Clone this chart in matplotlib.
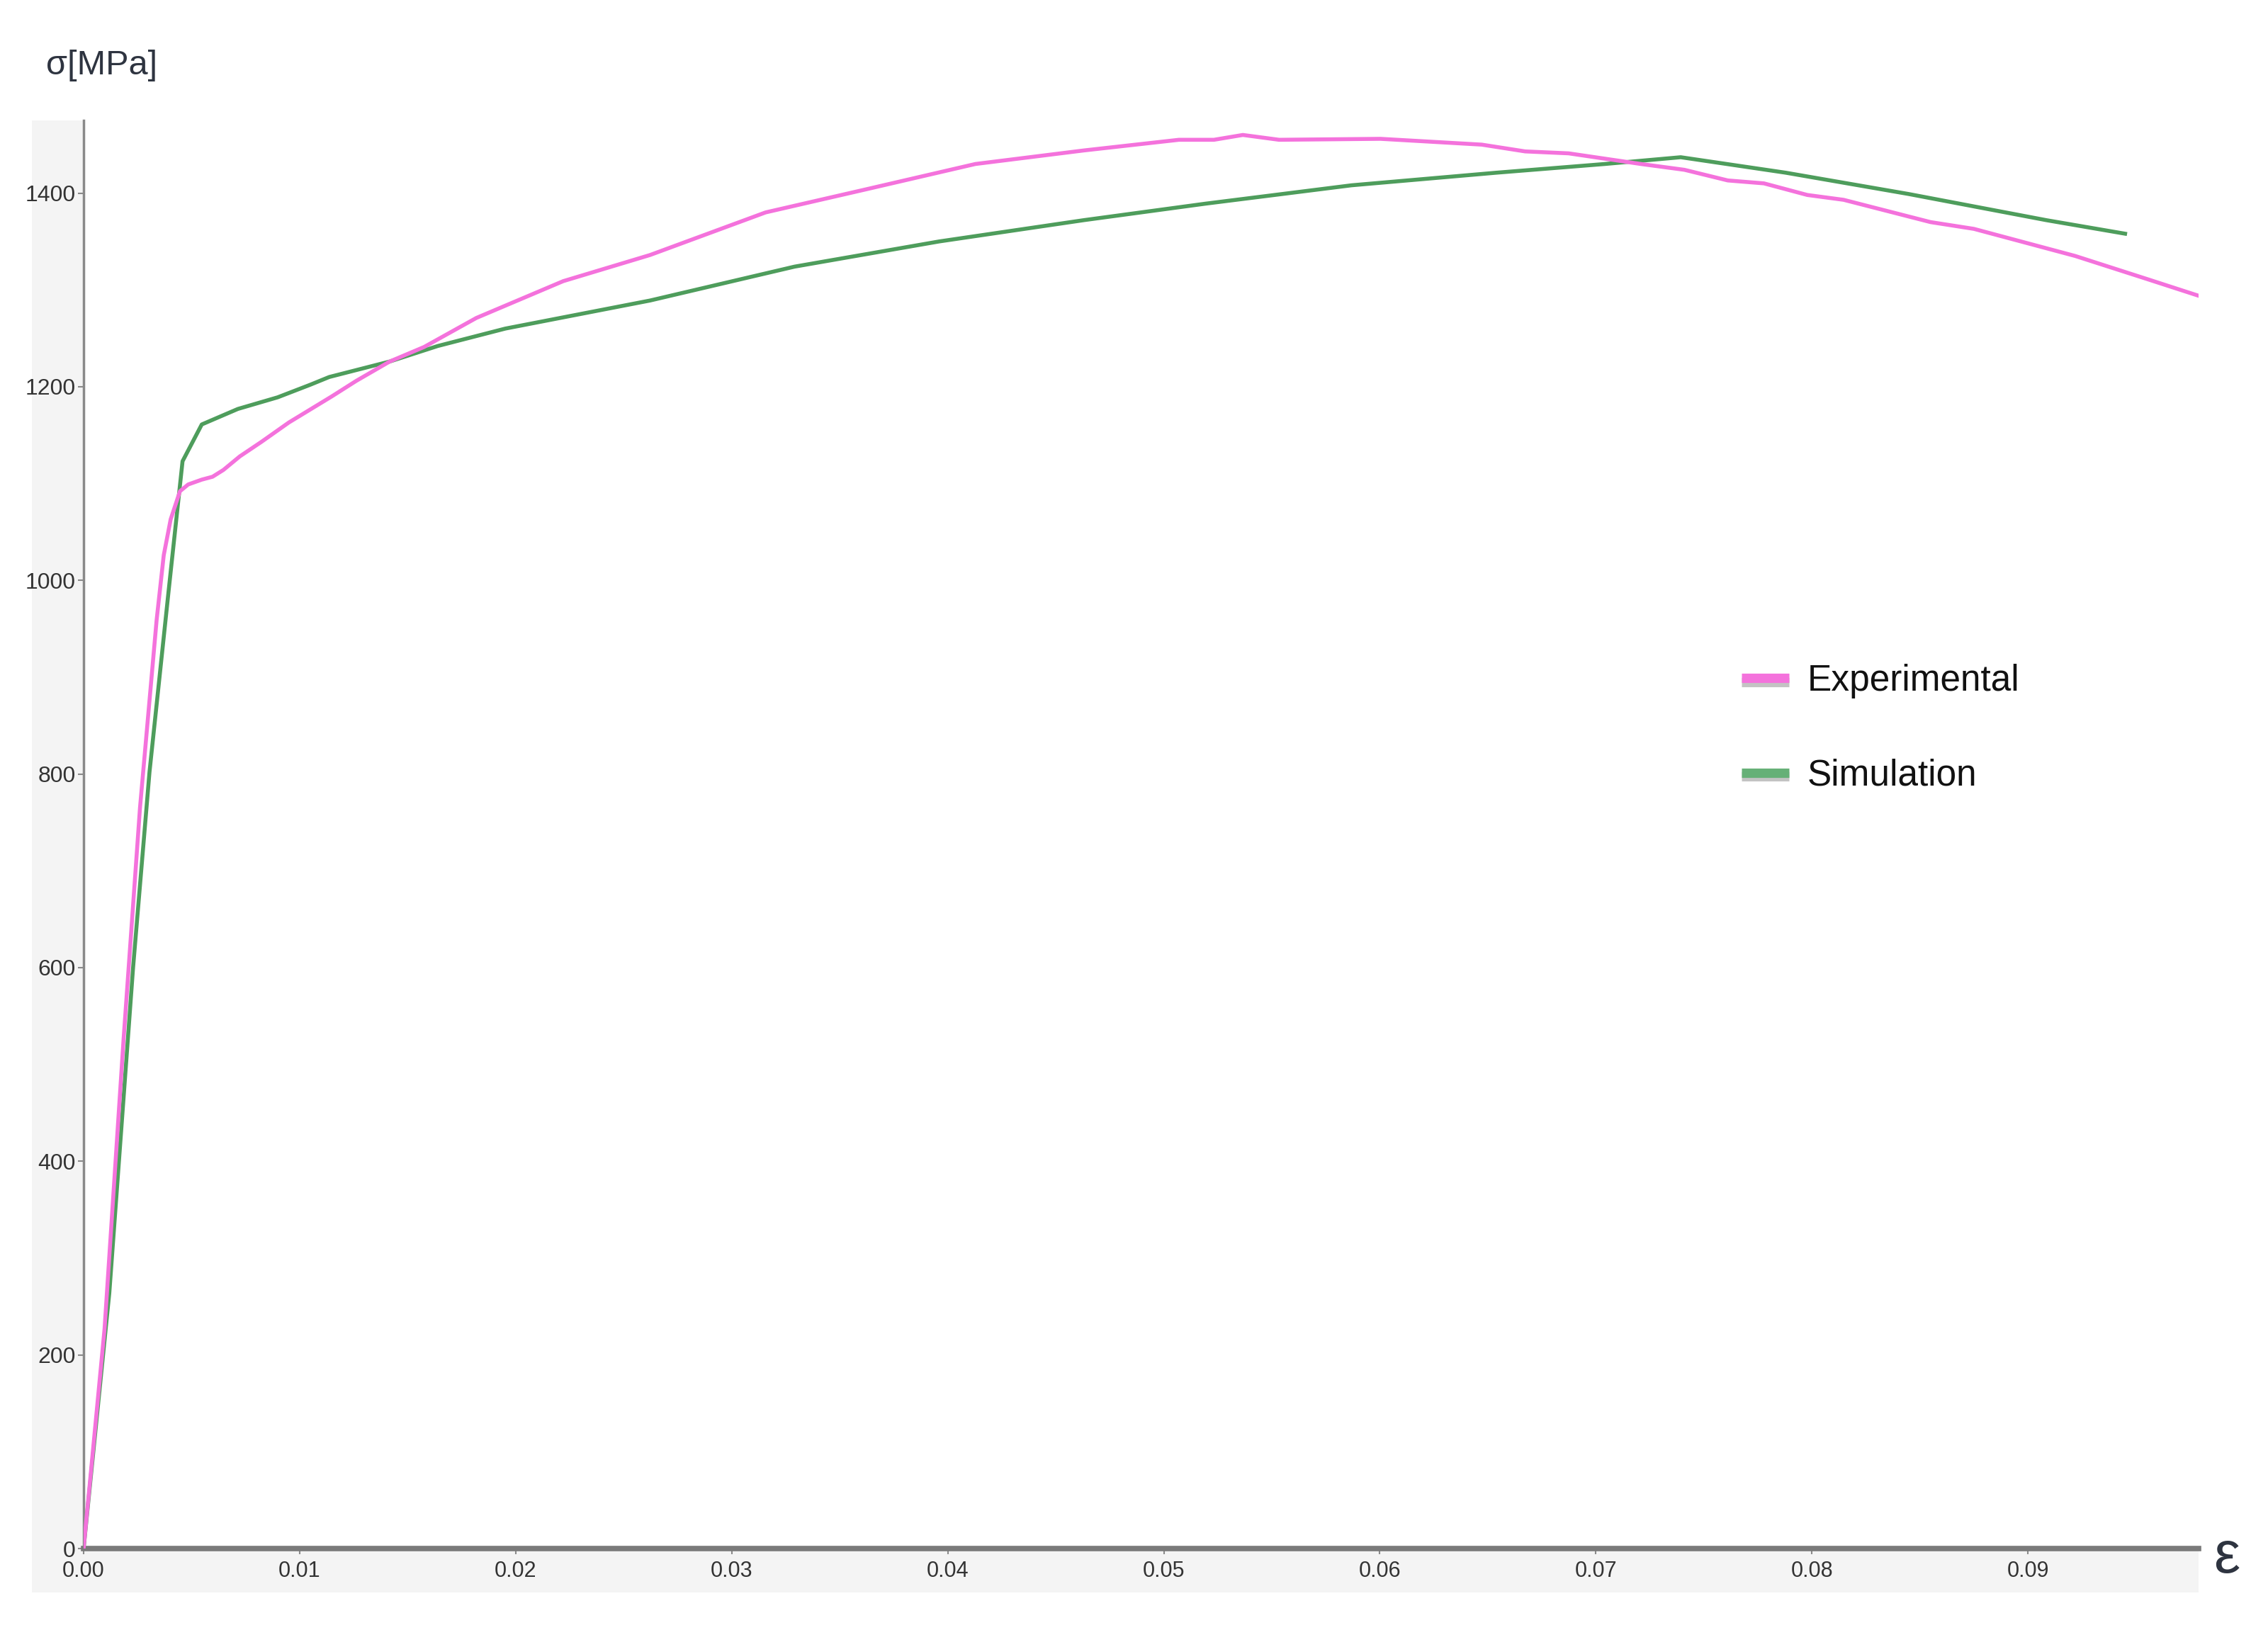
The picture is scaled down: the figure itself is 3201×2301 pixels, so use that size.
import matplotlib
matplotlib.use('Agg')
import matplotlib.pyplot as plt
from matplotlib.lines import Line2D
from matplotlib.patches import Rectangle
import matplotlib.patheffects as pe

# ---- data ----
exp_strain = [0, 0.00097, 0.00185, 0.00261, 0.00338, 0.00371, 0.00403, 0.00446, 0.00484,
              0.00547, 0.00597, 0.00647, 0.00723, 0.00823, 0.0095, 0.01149, 0.01262,
              0.01417, 0.01576, 0.01818, 0.0222, 0.02622, 0.03157, 0.03625, 0.04128,
              0.0463, 0.0507, 0.05232, 0.05366, 0.05534, 0.06003, 0.06472, 0.06673,
              0.06874, 0.07209, 0.0741, 0.07611, 0.07778, 0.07979, 0.08147, 0.08549,
              0.0875, 0.09219, 0.09554, 0.09789]
exp_stress = [0, 227, 526, 765, 959, 1026, 1063, 1092, 1099,
              1104, 1107, 1114, 1128, 1143, 1163, 1190, 1206,
              1226, 1241, 1271, 1309, 1336, 1380, 1404, 1430,
              1444, 1455, 1455, 1460, 1455, 1456, 1450, 1443,
              1441, 1430, 1424, 1413, 1410, 1398, 1393, 1370,
              1363, 1335, 1311, 1294]

sim_strain = [0, 0.00119, 0.00229, 0.00305, 0.00393, 0.00458, 0.00547, 0.00714, 0.00898,
              0.01049, 0.01137, 0.01417, 0.01639, 0.01952, 0.02622, 0.03291, 0.0396,
              0.0463, 0.05192, 0.05869, 0.06539, 0.07041, 0.07393, 0.07879, 0.08448,
              0.09085, 0.0945]
sim_stress = [0, 264, 600, 802, 988, 1123, 1161, 1177, 1189,
              1202, 1210, 1226, 1242, 1260, 1289, 1324, 1350,
              1372, 1389, 1408, 1421, 1430, 1437, 1421, 1399,
              1372, 1358]

x_ticks = [0.00, 0.01, 0.02, 0.03, 0.04, 0.05, 0.06, 0.07, 0.08, 0.09]
x_tick_labels = ["0.00", "0.01", "0.02", "0.03", "0.04", "0.05", "0.06", "0.07", "0.08", "0.09"]
y_ticks = [0, 200, 400, 600, 800, 1000, 1200, 1400]
y_tick_labels = ["0", "200", "400", "600", "800", "1000", "1200", "1400"]
series_names = ["Experimental", "Simulation"]

PINK = '#f472dc'
GREEN = '#4e9d5c'
GREEN_LEG = '#66b077'
FAM = ['Liberation Sans', 'DejaVu Sans']

W, H = 3201, 2301
fig = plt.figure(figsize=(W / 100, H / 100), dpi=100)
fig.patch.set_facecolor('white')

# light gray panel behind the tick-label area
fig.patches.append(Rectangle((45 / W, 1 - 2248 / H), (3103 - 45) / W, (2248 - 170) / H,
                             transform=fig.transFigure, facecolor='#f4f4f4',
                             edgecolor='none', zorder=-5))

left, right, bottom, top = 118 / W, 3103 / W, 1 - 2186 / H, 1 - 170 / H
ax = fig.add_axes([left, bottom, right - left, top - bottom])
ax.set_facecolor('white')

ax.plot(exp_strain, exp_stress, color=PINK, lw=4.0, solid_joinstyle='round', zorder=3)
ax.plot(sim_strain, sim_stress, color=GREEN, lw=4.0, solid_joinstyle='round', zorder=2)

ax.set_xlim(0, 0.0979)
ax.set_ylim(0, 1475)

ax.set_xticks(x_ticks)
ax.set_xticklabels(x_tick_labels, family=FAM, fontsize=22, color='#333333')
ax.set_yticks(y_ticks)
ax.set_yticklabels(y_tick_labels, family=FAM, fontsize=23, color='#333333')
ax.tick_params(axis='y', direction='out', length=6, width=1.5, color='#8a8a8a', pad=2)
ax.tick_params(axis='x', direction='out', length=6, width=1.5, color='#8a8a8a', pad=6)

for s in ['top', 'right']:
    ax.spines[s].set_visible(False)
ax.spines['left'].set_color('#8a8a8a')
ax.spines['left'].set_linewidth(2.5)
ax.spines['bottom'].set_color('#7a7a7a')
ax.spines['bottom'].set_linewidth(5.5)

# axis titles
fig.text(65 / W, 1 - 105 / H, 'σ[MPa]', family=FAM, fontsize=35, color='#2e3440',
         ha='left', va='baseline')
fig.text(3143 / W, 1 - 2220 / H, 'ε', family=FAM, fontsize=60, color='#2e3440',
         ha='center', va='baseline')

# legend
shadow = [pe.SimpleLineShadow(offset=(0, -4), shadow_color='#555555', alpha=0.35),
          pe.Normal()]
handles = [Line2D([0], [0], color=PINK, lw=9.5, path_effects=shadow, solid_capstyle='butt'),
           Line2D([0], [0], color=GREEN_LEG, lw=9.5, path_effects=shadow, solid_capstyle='butt')]
leg = ax.legend(handles, series_names, loc='upper left',
                bbox_to_anchor=(2458 / W, 1 - 937 / H), bbox_transform=fig.transFigure,
                frameon=False, borderpad=0, borderaxespad=0, handlelength=1.3,
                handletextpad=0.5, labelspacing=1.65,
                prop={'family': FAM, 'size': 37})
for t in leg.get_texts():
    t.set_color('#111111')

fig.savefig('out.png', dpi=100, facecolor='white')
